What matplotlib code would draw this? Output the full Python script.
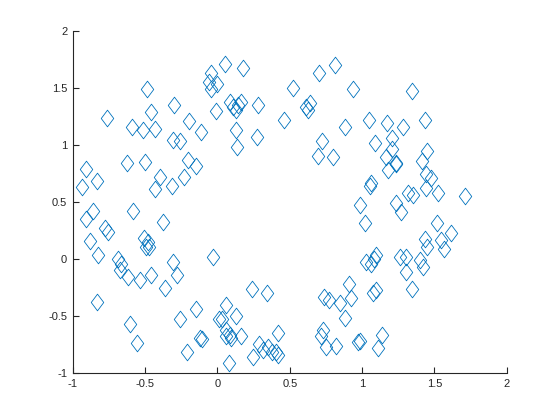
import matplotlib
matplotlib.use("Agg")
import matplotlib.pyplot as plt
from matplotlib.path import Path

x = [-0.49, -0.763, -0.30, -0.459, -0.588, -0.518, -0.431, -0.198, -0.115, -0.307,
     -0.256, -0.042, -0.06, 0.0, -0.045, -0.906, -0.625, -0.50, -0.203, -0.15,
     -0.832, -0.933, -0.399, -0.429, -0.314, -0.231, -0.86, -0.91, -0.583, -0.376,
     -0.779, -0.756, -0.878, -0.509, -0.48, -0.491, -0.473, -0.825, -0.687, -0.664,
     -0.675, -0.618, -0.537, -0.456, -0.307, -0.279, -0.03, -0.362, -0.832, -0.606,
     -0.256, -0.145, -0.556, -0.12, -0.214, 0.011,
     0.05, 0.177, 0.523, 0.702, 0.811, 0.937, 0.085, 0.142, 0.166,
     0.108, 0.131, 0.281, -0.007, 0.638, 0.61, 0.625, 0.46, 0.88, 0.131,
     0.136, 0.27, 0.723, 0.695, 0.799,
     0.239, 0.339, 0.057, 0.126, 0.032, 0.062, 0.085, 0.092, 0.062, 0.166,
     0.419, 0.288, 0.315, 0.35, 0.38, 0.408, 0.419, 0.246, 0.08, -0.11,
     0.91, 0.735, 0.771, 0.85, 0.926, 0.885, 0.73, 0.719, 0.753, 0.822, 0.972,
     1.348, 1.048, 1.172, 1.283, 1.438, 1.092, 1.203, 1.203, 1.163, 1.237,
     1.445, 1.417, 1.179, 1.232, 1.44, 1.479, 1.44, 1.525, 1.064, 1.057,
     1.318, 1.352, 1.712, 0.988, 1.232, 1.272, 1.023, 1.518, 1.433, 1.445,
     1.617, 1.548, 1.564, 1.025, 1.064, 1.099, 1.08, 1.26, 1.306, 1.306,
     1.398, 1.421, 1.076, 1.099, 1.348, 0.986, 1.138, 1.11]
y = [1.489, 1.234, 1.348, 1.287, 1.155, 1.129, 1.138, 1.208, 1.111, 1.041,
     1.035, 1.63, 1.555, 1.54, 1.495, 0.79, 0.845, 0.853, 0.868, 0.815,
     0.687, 0.629, 0.717, 0.611, 0.643, 0.722, 0.421, 0.351, 0.424, 0.327,
     0.269, 0.24, 0.161, 0.187, 0.152, 0.108, 0.103, 0.035, 0.0, -0.044,
     -0.1, -0.16, -0.185, -0.14, -0.023, -0.137, 0.015, -0.257, -0.374, -0.573,
     -0.529, -0.441, -0.74, -0.696, -0.818, -0.529,
     1.715, 1.673, 1.497, 1.629, 1.702, 1.489, 1.38, 1.35, 1.38,
     1.336, 1.307, 1.351, 1.3, 1.366, 1.331, 1.305, 1.219, 1.155, 1.132,
     0.985, 1.067, 1.035, 0.904, 0.898,
     -0.266, -0.301, -0.404, -0.5, -0.529, -0.623, -0.667, -0.696, -0.68, -0.675,
     -0.652, -0.746, -0.798, -0.769, -0.813, -0.813, -0.842, -0.862, -0.915, -0.704,
     -0.219, -0.33, -0.36, -0.383, -0.345, -0.52, -0.623, -0.68, -0.775, -0.763, -0.725,
     1.477, 1.219, 1.19, 1.155, 1.219, 1.015, 1.059, 0.962, 0.898, 0.845,
     0.95, 0.862, 0.781, 0.833, 0.746, 0.708, 0.62, 0.576, 0.664, 0.64,
     0.576, 0.561, 0.553, 0.474, 0.494, 0.415, 0.313, 0.318, 0.175, 0.108,
     0.225, 0.167, 0.085, -0.03, -0.04, 0.035, 0.0, 0.015, 0.02, -0.111,
     -0.009, -0.067, -0.3, -0.272, -0.266, -0.719, -0.667, -0.784]

xticks = [-1, -0.5, 0, 0.5, 1, 1.5, 2]
yticks = [-1, -0.5, 0, 0.5, 1, 1.5, 2]
xticklabels = ["-1", "-0.5", "0", "0.5", "1", "1.5", "2"]
yticklabels = ["-1", "-0.5", "0", "0.5", "1", "1.5", "2"]

diamond = Path([(0, 1), (0.75, 0), (0, -1), (-0.75, 0), (0, 1)],
               [Path.MOVETO, Path.LINETO, Path.LINETO, Path.LINETO, Path.CLOSEPOLY])

fig = plt.figure(figsize=(5.6, 4.2), dpi=100)
ax = fig.add_axes([0.13, 0.112, 0.775, 0.814])
ax.plot(x, y, linestyle="none", marker=diamond, markersize=12,
        markerfacecolor="none", markeredgecolor=(0, 0.447, 0.741), markeredgewidth=0.6)
ax.set_xlim(-1, 2)
ax.set_ylim(-1, 2)
ax.set_xticks(xticks)
ax.set_xticklabels(xticklabels)
ax.set_yticks(yticks)
ax.set_yticklabels(yticklabels)
for s in ["top", "right"]:
    ax.spines[s].set_visible(False)
for s in ["left", "bottom"]:
    ax.spines[s].set_color((0.15, 0.15, 0.15))
    ax.spines[s].set_linewidth(0.8)
ax.tick_params(direction="in", length=4, width=0.8, colors=(0.15, 0.15, 0.15),
               labelsize=8, pad=4)
for lab in ax.get_xticklabels() + ax.get_yticklabels():
    lab.set_fontfamily("Liberation Sans")
fig.savefig("out.png", dpi=100)
